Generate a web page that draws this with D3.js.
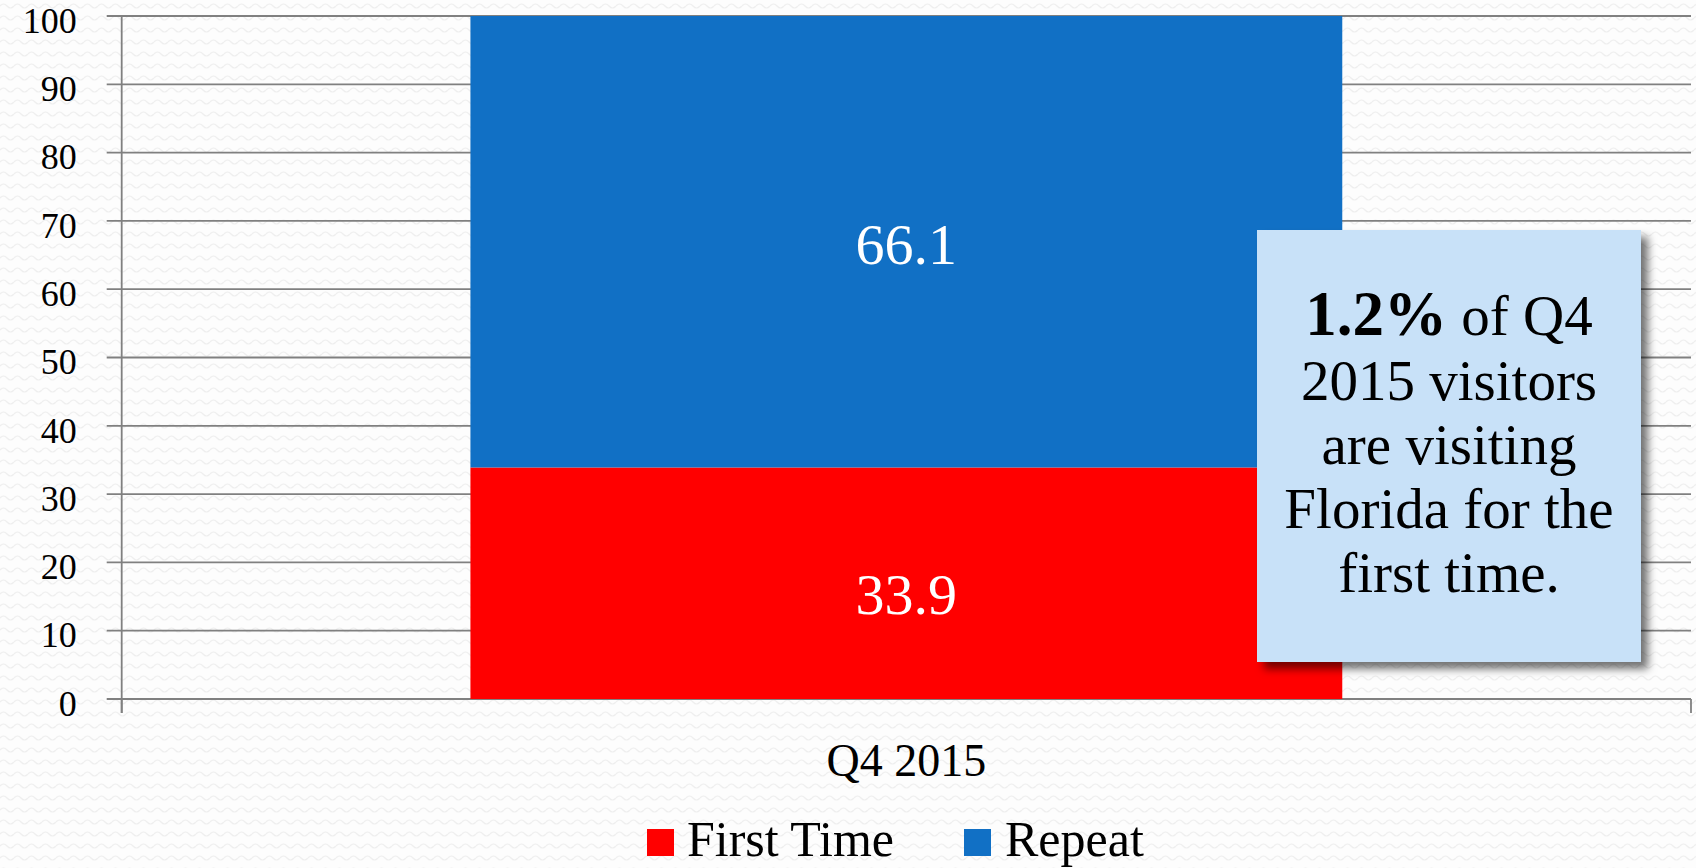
<!DOCTYPE html>
<html>
<head>
<meta charset="utf-8">
<script src="https://cdn.jsdelivr.net/npm/d3@7/dist/d3.min.js"></script>
<style>
  html, body { margin: 0; padding: 0; background: #fdfdfd; }
  svg { display: block; }
  text { font-family: "Liberation Serif", "DejaVu Serif", serif; }
</style>
</head>
<body>
<svg id="chart" width="1696" height="868"></svg>
<script>
// ---- data ----
const categories = ["Q4 2015"];
const seriesNames = ["First Time", "Repeat"];
const firstTime = [33.9];
const repeat = [66.1];
const yTicks = [0, 10, 20, 30, 40, 50, 60, 70, 80, 90, 100];
const seriesColors = ["#ff0000", "#1170c5"];
const noteBold = "1.2%";
const noteLines = [" of Q4", "2015 visitors", "are visiting", "Florida for the", "first time."];

// ---- layout ----
const W = 1696, H = 868;
const pLeft = 121.7, pRight = 1691, pTop = 16, pBottom = 699;

const svg = d3.select("#chart");
const defs = svg.append("defs");

// subtle wavy background pattern
const pat = defs.append("pattern").attr("id", "bgp").attr("patternUnits", "userSpaceOnUse")
  .attr("width", 14).attr("height", 12);
pat.append("rect").attr("width", 14).attr("height", 12).attr("fill", "#fdfdfd");
pat.append("path").attr("d", "M0,6 Q3.5,2 7,6 T14,6").attr("fill", "none")
  .attr("stroke", "#efefef").attr("stroke-width", 1.2);
svg.append("rect").attr("width", W).attr("height", H).attr("fill", "url(#bgp)");

const shadow = defs.append("filter").attr("id", "shadow")
  .attr("x", "-10%").attr("y", "-10%").attr("width", "130%").attr("height", "130%");
shadow.append("feDropShadow").attr("dx", 7).attr("dy", 7).attr("stdDeviation", 4)
  .attr("flood-color", "#000").attr("flood-opacity", 0.55);

const y = d3.scaleLinear().domain([0, 100]).range([pBottom, pTop]);
const x = d3.scaleBand().domain(categories).range([pLeft, pRight])
  .paddingInner(0).paddingOuter(0.4);

// gridlines
svg.append("g").selectAll("line").data(yTicks).join("line")
  .attr("x1", pLeft - 15).attr("x2", pRight)
  .attr("y1", d => y(d)).attr("y2", d => y(d))
  .attr("stroke", "#808080").attr("stroke-width", 1.8);

// y axis
const yAxis = svg.append("g").attr("transform", `translate(${pLeft},0)`)
  .call(d3.axisLeft(y).tickValues(yTicks).tickSize(15).tickPadding(30).tickFormat(d3.format("d")));
yAxis.select(".domain").attr("stroke", "#808080").attr("stroke-width", 1.8)
  .attr("d", `M0,${pTop}V${pBottom + 14}`);
yAxis.selectAll(".tick line").attr("stroke", "none");
yAxis.selectAll(".tick text").attr("font-size", 36).attr("fill", "#000")
  .attr("font-family", "Liberation Serif").attr("dy", "0.45em");

// x axis
const xAxis = svg.append("g");
xAxis.append("line").attr("x1", pLeft).attr("x2", pRight).attr("y1", pBottom).attr("y2", pBottom)
  .attr("stroke", "#808080").attr("stroke-width", 1.8);
xAxis.selectAll("line.tk").data(x.range()).join("line").attr("class", "tk")
  .attr("x1", d => d).attr("x2", d => d).attr("y1", pBottom).attr("y2", pBottom + 14)
  .attr("stroke", "#808080").attr("stroke-width", 1.8);
xAxis.selectAll("text").data(categories).join("text")
  .attr("x", d => x(d) + x.bandwidth() / 2).attr("y", 776)
  .attr("text-anchor", "middle").attr("font-size", 46).attr("fill", "#000").text(d => d);

// stacked bars
const rows = categories.map((c, i) => ({ cat: c, "First Time": firstTime[i], "Repeat": repeat[i] }));
const stack = d3.stack().keys(seriesNames)(rows);
const color = d3.scaleOrdinal().domain(seriesNames).range(seriesColors);

const layers = svg.append("g").selectAll("g").data(stack).join("g").attr("fill", d => color(d.key));
layers.selectAll("rect").data(d => d).join("rect")
  .attr("x", d => x(d.data.cat)).attr("width", x.bandwidth())
  .attr("y", d => y(d[1])).attr("height", d => y(d[0]) - y(d[1]));

// value labels
layers.selectAll("text").data(d => d.map(v => ({ v, key: d.key }))).join("text")
  .attr("x", d => x(d.v.data.cat) + x.bandwidth() / 2)
  .attr("y", d => (y(d.v[0]) + y(d.v[1])) / 2 + (d.key === "First Time" ? 10 : 2))
  .attr("dy", "0.35em")
  .attr("text-anchor", "middle").attr("font-size", 58).attr("fill", "#fff")
  .text(d => d3.format(".1f")(d.v.data[d.key]));

// annotation box
const bx = 1257, by = 230, bw = 384, bh = 432;
svg.append("rect").attr("x", bx).attr("y", by).attr("width", bw).attr("height", bh)
  .attr("fill", "#c8e1f8").attr("filter", "url(#shadow)");
const cx = bx + bw / 2;
const note = svg.append("text").attr("text-anchor", "middle").attr("fill", "#000").attr("font-size", 57);
const l0 = note.append("tspan").attr("x", cx).attr("y", 335);
l0.append("tspan").attr("font-weight", "bold").attr("font-size", 63).text(noteBold);
l0.append("tspan").text(noteLines[0]);
noteLines.slice(1).forEach((t, i) => {
  note.append("tspan").attr("x", cx).attr("y", 400 + i * 64).text(t);
});

// legend
const legX = [647, 964];
const leg = svg.append("g").selectAll("g").data(seriesNames).join("g")
  .attr("transform", (d, i) => `translate(${legX[i]},829)`);
leg.append("rect").attr("width", 27).attr("height", 27).attr("fill", d => color(d));
leg.append("text").attr("x", (d, i) => i === 0 ? 40 : 41).attr("y", 27)
  .attr("font-size", 50).attr("fill", "#000").text(d => d);
</script>
</body>
</html>
